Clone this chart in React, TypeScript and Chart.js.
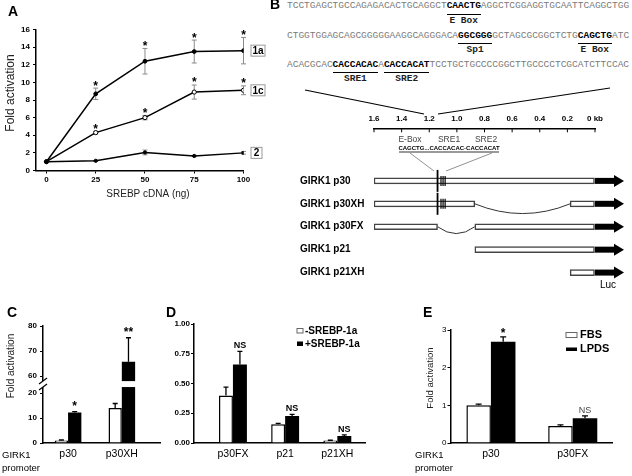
import React, { useEffect, useRef } from "react";
import { Chart, registerables } from "chart.js";

Chart.register(...registerables);

const SANS = "'Liberation Sans', Arial, Helvetica, sans-serif";
const MONO = "'Liberation Mono', 'Courier New', monospace";

// ---------------- Panel A data ----------------
const doseNg = [0, 25, 50, 75, 100];
const fold1a = [1, 8.7, 12.4, 13.5, 13.6];
const err1a = [0, 0.65, 1.45, 1.3, 1.5];
const sig1a = ["", "*", "*", "*", "*"];
const fold1c = [1, 4.3, 6.0, 8.9, 9.1];
const err1c = [0, 0.15, 0.25, 0.8, 0.5];
const sig1c = ["", "*", "*", "*", "*"];
const fold2 = [1, 1.1, 2.05, 1.65, 2.0];
const err2 = [0, 0.05, 0.27, 0.08, 0.15];
const seriesNames = ["1a", "1c", "2"];

// ---------------- Panel B data ----------------
const seqLines = [
  "TCCTGAGCTGCCAGAGACACTGCAGGCTCAACTGAGGCTCGGAGGTGCAATTCAGGCTGG",
  "CTGGTGGAGCAGCGGGGGAAGGCAGGGACAGGCGGGGCTAGCGCGGCTCTGCAGCTGATC",
  "ACACGCACCACCACACACACCACATTCCTGCTGCCCCGGCTTGCCCCTCGCATCTTCCAC",
];
const seqMotifs = [
  [{ start: 28, len: 6, name: "E Box" }],
  [
    { start: 30, len: 6, name: "Sp1" },
    { start: 51, len: 6, name: "E Box" },
  ],
  [
    { start: 8, len: 8, name: "SRE1" },
    { start: 17, len: 8, name: "SRE2" },
  ],
];
const kbTicks = [1.6, 1.4, 1.2, 1.0, 0.8, 0.6, 0.4, 0.2, 0];
const constructs = ["GIRK1 p30", "GIRK1 p30XH", "GIRK1 p30FX", "GIRK1 p21", "GIRK1 p21XH"];
const segA: (number[] | null)[] = [[0, 1.6], [0.87, 1.6], [1.14, 1.6], [0, 0.87], [0, 0.18]];
const segB: (number[] | null)[] = [null, [0, 0.18], [0, 0.87], null, null];
const eBoxKb = 1.14;
const sreKb = [1.115, 1.1, 1.085];

// ---------------- Panel C data ----------------
const promC = ["p30", "p30XH"];
const cMinus = [1, 14];
const cMinusErr = [0.2, 1.8];
const cPlus = [12.2, 65.7];
const cPlusErr = [0.35, 9.6];
const cSig = ["*", "**"];
const cTicks = [0, 10, 20, 60, 70, 80];

// ---------------- Panel D data ----------------
const promD = ["p30FX", "p21", "p21XH"];
const dMinus = [0.4, 0.157, 0.02];
const dMinusErr = [0.07, 0.008, 0.003];
const dPlus = [0.66, 0.227, 0.059];
const dPlusErr = [0.11, 0.013, 0.01];
const dSig = ["NS", "NS", "NS"];
const dLegend = ["-SREBP-1a", "+SREBP-1a"];

// ---------------- Panel E data ----------------
const promE = ["p30", "p30FX"];
const eFBS = [1.0, 0.45];
const eFBSErr = [0.03, 0.03];
const eLPDS = [2.69, 0.655];
const eLPDSErr = [0.13, 0.065];
const eSig = ["*", "NS"];
const eLegend = ["FBS", "LPDS"];

// broken axis mapping for panel C
const BREAK_LO = 20;
const BREAK_HI = 60;
const BREAK_GAP = 6.8;
const brk = (v: number) =>
  v <= BREAK_LO ? v : v >= BREAK_HI ? v - BREAK_HI + BREAK_LO + BREAK_GAP : BREAK_LO + ((v - BREAK_LO) / (BREAK_HI - BREAK_LO)) * BREAK_GAP;
const unbrk = (m: number) => (m <= BREAK_LO + 0.001 ? m : m - BREAK_LO - BREAK_GAP + BREAK_HI);

// canvas boxes (page coordinates)
const boxA = { x: 0, y: 0, w: 285, h: 200 };
const boxB = { x: 225, y: 80, w: 407, h: 220 };
const boxC = { x: 0, y: 300, w: 165, h: 176 };
const boxD = { x: 165, y: 300, w: 205, h: 176 };
const boxE = { x: 380, y: 300, w: 252, h: 176 };

// ---------------- plugins ----------------
function decor(box: any, items: any[]) {
  return {
    id: "decor",
    afterDraw(chart: any) {
      const ctx = chart.ctx;
      ctx.save();
      ctx.translate(-box.x, -box.y);
      for (const it of items) {
        if (it.t === "text") {
          ctx.save();
          ctx.font = it.font;
          ctx.fillStyle = it.color || "#000";
          ctx.textAlign = it.align || "left";
          ctx.textBaseline = "middle";
          ctx.translate(it.x, it.y);
          if (it.rot) ctx.rotate((it.rot * Math.PI) / 180);
          ctx.fillText(it.s, 0, 0);
          ctx.restore();
        } else if (it.t === "rect") {
          if (it.fill) {
            ctx.fillStyle = it.fill;
            ctx.fillRect(it.x, it.y, it.w, it.h);
          }
          if (it.stroke) {
            ctx.strokeStyle = it.stroke;
            ctx.lineWidth = it.lw || 1;
            ctx.strokeRect(it.x, it.y, it.w, it.h);
          }
        } else if (it.t === "line") {
          ctx.strokeStyle = it.color || "#000";
          ctx.lineWidth = it.lw || 1;
          ctx.beginPath();
          it.pts.forEach((p: number[], k: number) => (k ? ctx.lineTo(p[0], p[1]) : ctx.moveTo(p[0], p[1])));
          ctx.stroke();
        }
      }
      ctx.restore();
    },
  };
}

function errPlugin(o: any) {
  const map = o.map || ((v: number) => v);
  const drawErr = (chart: any) => {
    const ctx = chart.ctx;
    chart.data.datasets.forEach((ds: any, i: number) => {
      if (!ds.errors) return;
      const meta = chart.getDatasetMeta(i);
      const ys = chart.scales[meta.yAxisID];
      meta.data.forEach((el: any, j: number) => {
        const v = ds.values[j];
        const e = ds.errors[j];
        if (!e) return;
        const x = el.x;
        const top = ys.getPixelForValue(map(v + e));
        const bot = o.twoSided ? ys.getPixelForValue(map(v - e)) : ys.getPixelForValue(map(v));
        ctx.save();
        ctx.strokeStyle = o.color;
        ctx.lineWidth = o.lw;
        ctx.beginPath();
        ctx.moveTo(x, top);
        ctx.lineTo(x, bot);
        ctx.moveTo(x - o.cap / 2, top);
        ctx.lineTo(x + o.cap / 2, top);
        if (o.twoSided) {
          ctx.moveTo(x - o.cap / 2, bot);
          ctx.lineTo(x + o.cap / 2, bot);
        }
        ctx.stroke();
        ctx.restore();
      });
    });
  };
  const drawNotes = (chart: any) => {
    const ctx = chart.ctx;
    chart.data.datasets.forEach((ds: any, i: number) => {
      if (!ds.notes) return;
      const meta = chart.getDatasetMeta(i);
      const ys = chart.scales[meta.yAxisID];
      meta.data.forEach((el: any, j: number) => {
        const s = ds.notes[j];
        if (!s) return;
        const top = ys.getPixelForValue(map(ds.values[j] + (ds.errors ? ds.errors[j] : 0)));
        const star = s.indexOf("*") >= 0;
        const size = star ? o.starSize : o.nsSize;
        ctx.save();
        ctx.font = `${star ? "bold" : o.nsWeight} ${size}px ${SANS}`;
        ctx.fillStyle = star ? "#000" : o.nsColor;
        ctx.textAlign = "center";
        ctx.textBaseline = "alphabetic";
        const k = star ? 0.58 : 0.36;
        ctx.fillText(s, el.x, top - (star ? o.starGap : o.nsGap) + k * size);
        ctx.restore();
      });
    });
  };
  return {
    id: "errbars",
    beforeDatasetsDraw(chart: any) {
      if (o.behind) drawErr(chart);
    },
    afterDatasetsDraw(chart: any) {
      if (!o.behind) drawErr(chart);
      drawNotes(chart);
    },
  };
}

const tagPlugin = {
  id: "tags",
  afterDatasetsDraw(chart: any) {
    const ctx = chart.ctx;
    const area = chart.chartArea;
    chart.data.datasets.forEach((ds: any, i: number) => {
      if (!ds.tag) return;
      const meta = chart.getDatasetMeta(i);
      const el = meta.data[meta.data.length - 1];
      const w = ds.tag.length > 1 ? 14 : 11;
      const h = 11;
      const x = area.right + 7.5;
      const y = el.y;
      ctx.save();
      ctx.fillStyle = "#fff";
      ctx.fillRect(x, y - h / 2, w, h);
      ctx.strokeStyle = "#999";
      ctx.lineWidth = 1;
      ctx.strokeRect(x, y - h / 2, w, h);
      ctx.fillStyle = "#000";
      ctx.font = `bold 10px ${SANS}`;
      ctx.textAlign = "center";
      ctx.textBaseline = "middle";
      ctx.fillText(ds.tag, x + w / 2, y + 0.5);
      ctx.restore();
    });
  },
};

const breakPlugin = {
  id: "axisBreak",
  afterDatasetsDraw(chart: any) {
    const ys = chart.scales.y;
    const area = chart.chartArea;
    const ctx = chart.ctx;
    const yLo = ys.getPixelForValue(BREAK_LO + 0.35 * BREAK_GAP);
    const yHi = ys.getPixelForValue(BREAK_LO + 0.7 * BREAK_GAP);
    ctx.save();
    ctx.fillStyle = "#fff";
    ctx.fillRect(area.left - 5, yHi, area.right - area.left + 5, yLo - yHi);
    ctx.strokeStyle = "#000";
    ctx.lineWidth = 1.2;
    [yLo, yHi].forEach((y) => {
      ctx.beginPath();
      ctx.moveTo(area.left - 4, y + 3);
      ctx.lineTo(area.left + 4, y - 3);
      ctx.stroke();
    });
    ctx.restore();
  },
};

const constructPlugin = {
  id: "constructs",
  afterDatasetsDraw(chart: any) {
    const xs = chart.scales.x;
    const ys = chart.scales.y;
    const ctx = chart.ctx;
    const top = chart.chartArea.top;
    ctx.save();
    ctx.strokeStyle = "#000";
    ctx.lineWidth = 1;
    kbTicks.forEach((v) => {
      const px = xs.getPixelForValue(v);
      ctx.beginPath();
      ctx.moveTo(px, top);
      ctx.lineTo(px, top + 4);
      ctx.stroke();
    });
    const h = 6;
    constructs.forEach((_, i) => {
      const y = ys.getPixelForValue(i);
      const x0 = xs.getPixelForValue(0);
      // luciferase arrow
      ctx.fillStyle = "#000";
      ctx.fillRect(x0, y - h / 2, 20, h);
      ctx.beginPath();
      ctx.moveTo(x0 + 19, y - 6);
      ctx.lineTo(x0 + 29, y);
      ctx.lineTo(x0 + 19, y + 6);
      ctx.closePath();
      ctx.fill();
      // deletion curve
      const a = segA[i];
      const b = segB[i];
      if (a && b) {
        const xa = xs.getPixelForValue(Math.min(...a));
        const xb = xs.getPixelForValue(Math.max(...b));
        const d = 5 + 0.05 * Math.abs(xb - xa);
        ctx.strokeStyle = "#333";
        ctx.lineWidth = 1;
        ctx.beginPath();
        ctx.moveTo(xa, y);
        ctx.quadraticCurveTo((xa + xb) / 2, y + 2 * d, xb, y);
        ctx.stroke();
      }
      // E-box and SRE markers
      const minSre = Math.min(...sreKb);
      const covers = [a, b].some((s) => s && Math.min(...s) < minSre && Math.max(...s) > eBoxKb);
      if (covers) {
        ctx.strokeStyle = "#000";
        ctx.lineWidth = 1.8;
        const xe = xs.getPixelForValue(eBoxKb);
        ctx.beginPath();
        ctx.moveTo(xe, y - 11);
        ctx.lineTo(xe, y + 11);
        ctx.stroke();
        ctx.lineWidth = 1.2;
        sreKb.forEach((k) => {
          const xk = xs.getPixelForValue(k);
          ctx.beginPath();
          ctx.moveTo(xk, y - 5);
          ctx.lineTo(xk, y + 5);
          ctx.stroke();
        });
      }
    });
    ctx.restore();
  },
};

// ---------------- helpers ----------------
const font = (size: number, weight: any = "bold") => ({ family: SANS, size, weight });

function valueAxis(o: any) {
  const ax: any = {
    min: o.min,
    max: o.max,
    grid: { drawOnChartArea: false, drawTicks: true, tickLength: 3, color: "#000", lineWidth: 1 },
    border: { color: "#000", width: 1.5 },
    ticks: { color: "#000", padding: o.padding, font: o.font, autoSkip: false },
    afterFit: (s: any) => {
      s.width = o.width;
    },
  };
  if (o.step) ax.ticks.stepSize = o.step;
  if (o.callback) ax.ticks.callback = o.callback;
  if (o.ticks) {
    ax.afterBuildTicks = (s: any) => {
      s.ticks = o.ticks.map((v: number) => ({ value: v }));
    };
  }
  return ax;
}

function catAxis(labels: string[], min: number, max: number) {
  return {
    type: "linear",
    min,
    max,
    offset: false,
    grid: { drawOnChartArea: false, drawTicks: false, offset: false },
    border: { color: "#000", width: 1.5 },
    ticks: {
      color: "#000",
      padding: 5,
      font: font(10.5, "normal"),
      autoSkip: false,
      maxRotation: 0,
      callback: (v: number) => labels[Math.round(v) - 1] || "",
    },
    afterBuildTicks: (s: any) => {
      s.ticks = labels.map((_, i) => ({ value: i + 1 }));
    },
    afterFit: (s: any) => {
      s.height = 33;
    },
  };
}

const whiteBar = { backgroundColor: "#fff", borderColor: "#000", borderWidth: 1.5, barPercentage: 1 };
const blackBar = { backgroundColor: "#000", borderColor: "#000", borderWidth: 0, barPercentage: 1 };
const baseOpts = {
  responsive: false,
  animation: false,
  events: [],
  plugins: { legend: { display: false }, tooltip: { enabled: false } },
};

// ---------------- configs ----------------
function configA(): any {
  const mk = (vals: number[], errs: number[], notes: string[] | null, tag: string, fill: string, r: number) => ({
    data: doseNg.map((x, i) => ({ x, y: vals[i] })),
    borderColor: "#000",
    borderWidth: 1.5,
    pointRadius: r,
    pointBackgroundColor: fill,
    pointBorderColor: "#000",
    pointBorderWidth: 1,
    tension: 0,
    values: vals,
    errors: errs,
    notes,
    tag,
  });
  return {
    type: "line",
    data: {
      datasets: [
        mk(fold1a, err1a, sig1a, seriesNames[0], "#000", 1.9),
        mk(fold1c, err1c, sig1c, seriesNames[1], "#fff", 2.1),
        mk(fold2, err2, null, seriesNames[2], "#000", 1.6),
      ],
    },
    options: {
      ...baseOpts,
      layout: { padding: { left: 0, top: 29.5, right: boxA.w - 243.5, bottom: 0 } },
      scales: {
        x: {
          type: "linear",
          min: -5.3,
          max: 100,
          grid: { drawOnChartArea: false, drawTicks: true, tickLength: 3, color: "#000" },
          border: { color: "#000", width: 1.5 },
          ticks: { color: "#000", padding: 1, font: font(8), autoSkip: false, maxRotation: 0 },
          afterBuildTicks: (s: any) => {
            s.ticks = doseNg.map((v) => ({ value: v }));
          },
          afterFit: (s: any) => {
            s.height = 29.5;
          },
        },
        y: valueAxis({ min: 0, max: 16, step: 2, padding: 3, font: font(8), width: 36 }),
      },
    },
    plugins: [
      errPlugin({ twoSided: true, behind: true, color: "#8a8a8a", lw: 1, cap: 5, starSize: 12, starGap: 5.5, nsSize: 9, nsGap: 6, nsWeight: "bold", nsColor: "#000" }),
      tagPlugin,
      decor(boxA, [
        { t: "text", s: "A", x: 8, y: 12, font: `bold 14px ${SANS}` },
        { t: "text", s: "B", x: 270, y: 5, font: `bold 14px ${SANS}` },
        { t: "text", s: "Fold activation", x: 10.5, y: 93, rot: -90, align: "center", font: `12px ${SANS}`, color: "#222" },
        { t: "text", s: "SREBP cDNA (ng)", x: 148, y: 194, align: "center", font: `10px ${SANS}`, color: "#222" },
      ]),
    ],
  };
}

function configB(): any {
  const toData = (segs: (number[] | null)[]) =>
    segs.flatMap((s, i) => (s ? [{ y: i, x: s }] : []));
  const barStyle = {
    backgroundColor: "#fff",
    borderColor: "#444",
    borderWidth: 1.5,
    borderSkipped: false,
    barThickness: 6,
    grouped: false,
  };
  return {
    type: "bar",
    data: {
      datasets: [
        { data: toData(segA), ...barStyle },
        { data: toData(segB), ...barStyle },
      ],
    },
    options: {
      ...baseOpts,
      indexAxis: "y",
      layout: { padding: { left: 75, top: 28.3, right: 37, bottom: 10 } },
      scales: {
        x: {
          type: "linear",
          position: "top",
          min: 0,
          max: 1.6,
          reverse: true,
          grid: { drawOnChartArea: false, drawTicks: false },
          border: { color: "#000", width: 1.5 },
          ticks: {
            color: "#000",
            padding: 5,
            font: font(8),
            autoSkip: false,
            maxRotation: 0,
            callback: (v: number) => (Math.abs(v) < 1e-6 ? "0 kb" : Number(v).toFixed(1)),
          },
          afterBuildTicks: (s: any) => {
            s.ticks = kbTicks.map((v) => ({ value: v }));
          },
          afterFit: (s: any) => {
            s.height = 20;
          },
        },
        y: {
          type: "linear",
          reverse: true,
          min: -2.294,
          max: 4.76,
          offset: false,
          grid: { drawOnChartArea: false, drawTicks: false },
          border: { display: false },
          ticks: {
            color: "#000",
            padding: 0,
            crossAlign: "far",
            font: font(10),
            autoSkip: false,
            callback: (v: number) => constructs[Math.round(v)] || "",
          },
          afterBuildTicks: (s: any) => {
            s.ticks = constructs.map((_, i) => ({ value: i }));
          },
          afterFit: (s: any) => {
            s.width = 74;
          },
        },
      },
    },
    plugins: [
      constructPlugin,
      decor(boxB, [
        { t: "line", pts: [[305, 90], [424, 114]], lw: 1.2 },
        { t: "line", pts: [[610, 88], [438, 114]], lw: 1.2 },
        { t: "text", s: "E-Box", x: 410, y: 140, align: "center", font: `8.5px ${SANS}`, color: "#444" },
        { t: "text", s: "SRE1", x: 449, y: 140, align: "center", font: `8.5px ${SANS}`, color: "#444" },
        { t: "text", s: "SRE2", x: 486, y: 140, align: "center", font: `8.5px ${SANS}`, color: "#444" },
        { t: "text", s: "CAGCTG...CACCACAC-CACCACAT", x: 449, y: 148.5, align: "center", font: `bold 6px ${SANS}`, color: "#000" },
        { t: "line", pts: [[399, 152], [499, 152]], lw: 0.8 },
        { t: "line", pts: [[410, 153], [434, 171]], lw: 0.8, color: "#777" },
        { t: "line", pts: [[492, 153], [446, 171]], lw: 0.8, color: "#777" },
        { t: "text", s: "Luc", x: 608, y: 285, align: "center", font: `10px ${SANS}`, color: "#000" },
      ]),
    ],
  };
}

function configC(): any {
  const xy = (vals: number[]) => vals.map((v, i) => ({ x: i + 1, y: brk(v) }));
  return {
    type: "bar",
    data: {
      datasets: [
        { data: xy(cMinus), ...whiteBar, categoryPercentage: 0.495, values: cMinus, errors: cMinusErr },
        { data: xy(cPlus), ...blackBar, categoryPercentage: 0.495, values: cPlus, errors: cPlusErr, notes: cSig },
      ],
    },
    options: {
      ...baseOpts,
      layout: { padding: { left: 0, top: 26, right: 5, bottom: 0 } },
      scales: {
        x: catAxis(promC, 0.534, 2.71),
        y: valueAxis({
          min: 0,
          max: brk(80),
          padding: 3,
          font: font(8),
          width: 43,
          ticks: cTicks.map(brk),
          callback: (v: number) => String(Math.round(unbrk(v))),
        }),
      },
    },
    plugins: [
      errPlugin({ color: "#000", lw: 1.3, cap: 5, map: brk, starSize: 12, starGap: 9, nsSize: 9, nsGap: 7, nsWeight: "bold", nsColor: "#000" }),
      breakPlugin,
      decor(boxC, [
        { t: "text", s: "C", x: 7, y: 313, font: `bold 14px ${SANS}` },
        { t: "text", s: "Fold activation", x: 11, y: 366, rot: -90, align: "center", font: `10px ${SANS}`, color: "#222" },
        { t: "text", s: "GIRK1", x: 2, y: 455, font: `9.5px ${SANS}`, color: "#000" },
        { t: "text", s: "promoter", x: 2, y: 468, font: `9.5px ${SANS}`, color: "#000" },
      ]),
    ],
  };
}

function configD(): any {
  const xy = (vals: number[]) => vals.map((v, i) => ({ x: i + 1, y: v }));
  return {
    type: "bar",
    data: {
      datasets: [
        { data: xy(dMinus), ...whiteBar, categoryPercentage: 0.535, values: dMinus, errors: dMinusErr },
        { data: xy(dPlus), ...blackBar, categoryPercentage: 0.535, values: dPlus, errors: dPlusErr, notes: dSig },
      ],
    },
    options: {
      ...baseOpts,
      layout: { padding: { left: 0, top: 24, right: 5, bottom: 0 } },
      scales: {
        x: catAxis(promD, 0.254, 3.53),
        y: valueAxis({
          min: 0,
          max: 1,
          step: 0.25,
          padding: 1,
          font: font(8),
          width: 29,
          callback: (v: number) => Number(v).toFixed(2),
        }),
      },
    },
    plugins: [
      errPlugin({ color: "#000", lw: 1.3, cap: 5, starSize: 12, starGap: 6, nsSize: 9, nsGap: 6.5, nsWeight: "bold", nsColor: "#000" }),
      decor(boxD, [
        { t: "text", s: "D", x: 166, y: 313, font: `bold 14px ${SANS}` },
        { t: "rect", x: 297, y: 328.5, w: 6, h: 4.5, fill: "#fff", stroke: "#666", lw: 1 },
        { t: "text", s: dLegend[0], x: 305, y: 331, font: `bold 10px ${SANS}` },
        { t: "rect", x: 297, y: 341.5, w: 6, h: 4.5, fill: "#000" },
        { t: "text", s: dLegend[1], x: 305, y: 344, font: `bold 10px ${SANS}` },
      ]),
    ],
  };
}

function configE(): any {
  const xy = (vals: number[]) => vals.map((v, i) => ({ x: i + 1, y: v }));
  return {
    type: "bar",
    data: {
      datasets: [
        { data: xy(eFBS), ...whiteBar, categoryPercentage: 0.6, values: eFBS, errors: eFBSErr },
        { data: xy(eLPDS), ...blackBar, categoryPercentage: 0.6, values: eLPDS, errors: eLPDSErr, notes: eSig },
      ],
    },
    options: {
      ...baseOpts,
      layout: { padding: { left: 0, top: 30, right: 20, bottom: 0 } },
      scales: {
        x: catAxis(promE, 0.506, 2.48),
        y: valueAxis({ min: 0, max: 3, step: 1, padding: 1, font: font(8, "normal"), width: 70.5 }),
      },
    },
    plugins: [
      errPlugin({ color: "#000", lw: 1.3, cap: 6, starSize: 12, starGap: 6.5, nsSize: 9, nsGap: 6.4, nsWeight: "normal", nsColor: "#444" }),
      decor(boxE, [
        { t: "text", s: "E", x: 423, y: 313, font: `bold 14px ${SANS}` },
        { t: "text", s: "Fold activation", x: 430, y: 378, rot: -90, align: "center", font: `9.5px ${SANS}`, color: "#222" },
        { t: "rect", x: 566, y: 332.5, w: 11, h: 5, fill: "#fff", stroke: "#666", lw: 1 },
        { t: "text", s: eLegend[0], x: 580, y: 335, font: `bold 11px ${SANS}` },
        { t: "rect", x: 566, y: 347.5, w: 11, h: 3.5, fill: "#000" },
        { t: "text", s: eLegend[1], x: 580, y: 349, font: `bold 11px ${SANS}` },
        { t: "text", s: "GIRK1", x: 415, y: 455, font: `9.5px ${SANS}`, color: "#000" },
        { t: "text", s: "promoter", x: 415, y: 468, font: `9.5px ${SANS}`, color: "#000" },
      ]),
    ],
  };
}

// ---------------- sequence block (HTML text) ----------------
const SEQ_X = 287;
const SEQ_FONT = 9.5;
const CW = SEQ_FONT * 0.6;
const seqCenters = [5.5, 35, 64];

function SeqLine(props: { s: string; motifs: any[]; cy: number }) {
  const { s, motifs, cy } = props;
  const parts: any[] = [];
  let pos = 0;
  motifs.forEach((m, k) => {
    if (m.start > pos) parts.push(<span key={"n" + k}>{s.slice(pos, m.start)}</span>);
    parts.push(
      <span key={"m" + k} style={{ fontWeight: "bold", color: "#000" }}>
        {s.slice(m.start, m.start + m.len)}
      </span>
    );
    pos = m.start + m.len;
  });
  if (pos < s.length) parts.push(<span key="end">{s.slice(pos)}</span>);
  return (
    <>
      <div
        style={{
          position: "absolute",
          left: SEQ_X,
          top: cy - 4.2,
          font: `${SEQ_FONT}px ${MONO}`,
          lineHeight: `${SEQ_FONT}px`,
          color: "#7a7a7a",
          whiteSpace: "pre",
        }}
      >
        {parts}
      </div>
      {motifs.map((m, k) => (
        <React.Fragment key={"u" + k}>
          <div
            style={{
              position: "absolute",
              left: SEQ_X + m.start * CW,
              top: cy + 8,
              width: m.len * CW,
              height: 1.3,
              background: "#000",
            }}
          />
          <div
            style={{
              position: "absolute",
              left: SEQ_X + m.start * CW - 15,
              width: m.len * CW + 30,
              top: cy + 14.5 - 4.2,
              textAlign: "center",
              font: `bold ${SEQ_FONT}px ${MONO}`,
              lineHeight: `${SEQ_FONT}px`,
              color: "#222",
              whiteSpace: "pre",
            }}
          >
            {m.name}
          </div>
        </React.Fragment>
      ))}
    </>
  );
}

export default function App() {
  const refA = useRef<HTMLCanvasElement>(null);
  const refB = useRef<HTMLCanvasElement>(null);
  const refC = useRef<HTMLCanvasElement>(null);
  const refD = useRef<HTMLCanvasElement>(null);
  const refE = useRef<HTMLCanvasElement>(null);

  useEffect(() => {
    Chart.defaults.font.family = SANS;
    Chart.defaults.color = "#000";
    const charts = [
      new Chart(refA.current as any, configA()),
      new Chart(refB.current as any, configB()),
      new Chart(refC.current as any, configC()),
      new Chart(refD.current as any, configD()),
      new Chart(refE.current as any, configE()),
    ];
    return () => charts.forEach((c) => c.destroy());
  }, []);

  const cv = (ref: any, b: any) => (
    <canvas
      ref={ref}
      width={b.w}
      height={b.h}
      style={{ position: "absolute", left: b.x, top: b.y, width: b.w, height: b.h }}
    />
  );

  return (
    <div style={{ position: "absolute", left: 0, top: 0, width: 632, height: 476, background: "#fff", overflow: "hidden" }}>
      {seqLines.map((s, i) => (
        <SeqLine key={i} s={s} motifs={seqMotifs[i]} cy={seqCenters[i]} />
      ))}
      {cv(refA, boxA)}
      {cv(refB, boxB)}
      {cv(refC, boxC)}
      {cv(refD, boxD)}
      {cv(refE, boxE)}
    </div>
  );
}
